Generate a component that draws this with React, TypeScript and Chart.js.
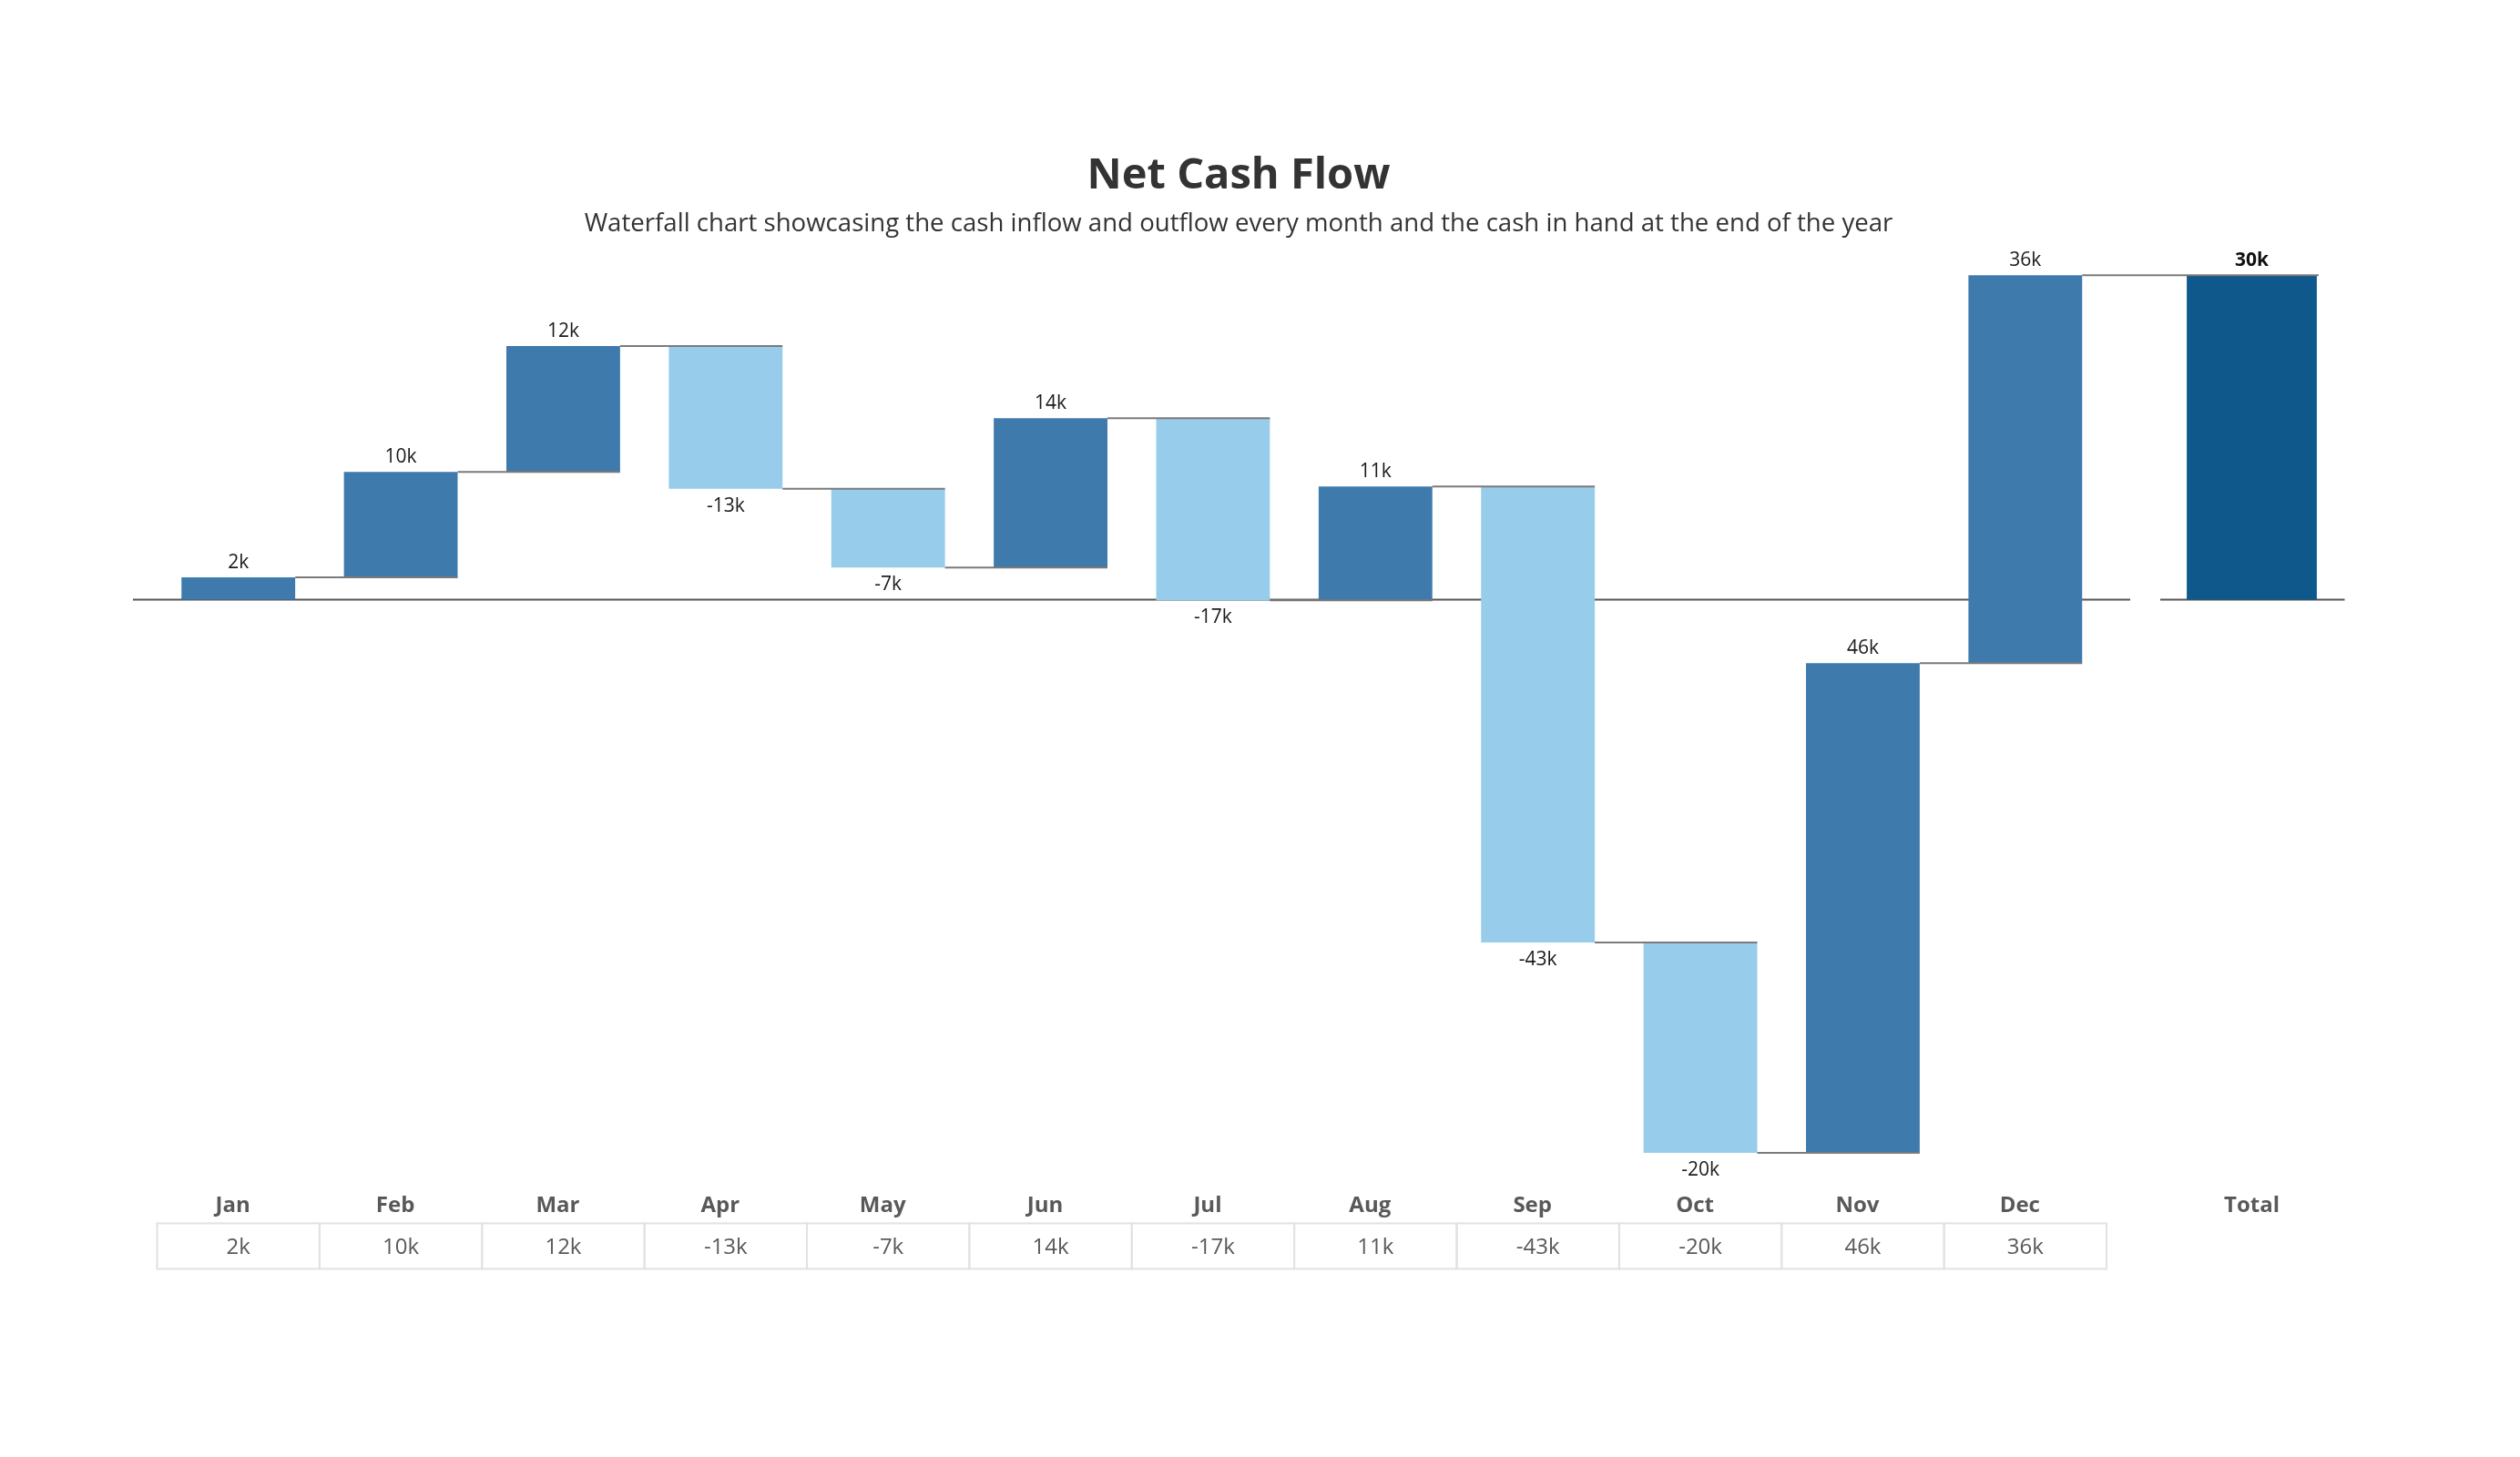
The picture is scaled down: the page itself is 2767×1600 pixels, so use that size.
import React, { useEffect, useRef } from "react";
import { Chart, registerables } from "chart.js";

Chart.register(...registerables);

// ---------- data ----------
const months = ["Jan", "Feb", "Mar", "Apr", "May", "Jun", "Jul", "Aug", "Sep", "Oct", "Nov", "Dec"];
const monthlyNet = [2090, 9870, 11800, -13370, -7390, 14000, -17070, 10670, -42720, -19710, 45870, 36350];
const totalCategory = ["Total"];
const yMin = -54000;
const yMax = 36000;

const titleText = "Net Cash Flow";
const subtitleText =
  "Waterfall chart showcasing the cash inflow and outflow every month and the cash in hand at the end of the year";

// ---------- styling ----------
const FONT = "'Open Sans', 'Noto Sans', sans-serif";
const DARK = "#3e7aac";
const LIGHT = "#97cdea";
const TOTAL = "#0e588c";
const CONNECTOR = "#7a7a7a";
const ZERO = "#555555";
const AXIS_TEXT = "#595959";

const PAD_TOP = 236.6;
const PAD_BOTTOM = 208.6;
const AXIS_H = 100;

const fmtK = (v: number) => `${Math.round(v / 1000)}k`;

// cumulative ranges for floating bars
const ranges: number[][] = [];
let running = 0;
for (const v of monthlyNet) {
  const s = running;
  running += v;
  ranges.push([s, running]);
}
const totalValue = running;

function mainPlugin() {
  return {
    id: "waterfallMain",
    beforeDatasetsDraw(chart: any) {
      const { ctx, chartArea, scales } = chart;
      const y0 = scales.y.getPixelForValue(0);
      ctx.save();
      ctx.strokeStyle = ZERO;
      ctx.lineWidth = 2;
      ctx.beginPath();
      ctx.moveTo(chartArea.left - 26.5, y0);
      ctx.lineTo(chartArea.right + 26, y0);
      ctx.stroke();
      ctx.restore();
    },
    afterDatasetsDraw(chart: any) {
      const { ctx, scales } = chart;
      const meta = chart.getDatasetMeta(0);
      const els = meta.data;
      ctx.save();
      // connectors
      ctx.strokeStyle = CONNECTOR;
      ctx.lineWidth = 2;
      for (let i = 0; i < els.length; i++) {
        const el = els[i];
        const right = el.x + el.width / 2;
        const y = scales.y.getPixelForValue(ranges[i][1]);
        const end = i < els.length - 1 ? els[i + 1].x + els[i + 1].width / 2 : chart.width;
        ctx.beginPath();
        ctx.moveTo(right, y);
        ctx.lineTo(end, y);
        ctx.stroke();
      }
      // value labels
      ctx.font = `400 21px ${FONT}`;
      ctx.fillStyle = "#1a1a1a";
      ctx.textAlign = "center";
      ctx.textBaseline = "middle";
      for (let i = 0; i < els.length; i++) {
        const v = monthlyNet[i];
        const yEnd = scales.y.getPixelForValue(ranges[i][1]);
        const ly = v >= 0 ? yEnd - 16 : yEnd + 19;
        ctx.fillText(fmtK(v), els[i].x, ly);
      }
      ctx.restore();
    },
    afterDraw(chart: any) {
      const { ctx, chartArea, scales } = chart;
      const n = months.length;
      const cw = chartArea.width / n;
      const top = chartArea.bottom + 52;
      const h = 50;
      ctx.save();
      ctx.strokeStyle = "#e2e2e2";
      ctx.lineWidth = 2;
      for (let i = 0; i < n; i++) {
        const cx = scales.x.getPixelForValue(i);
        ctx.strokeRect(cx - cw / 2, top, cw, h);
      }
      ctx.font = `400 24px ${FONT}`;
      ctx.fillStyle = AXIS_TEXT;
      ctx.textAlign = "center";
      ctx.textBaseline = "middle";
      for (let i = 0; i < n; i++) {
        const cx = scales.x.getPixelForValue(i);
        ctx.fillText(fmtK(monthlyNet[i]), cx, top + h / 2 + 2);
      }
      ctx.restore();
    },
  };
}

function totalPlugin() {
  return {
    id: "waterfallTotal",
    beforeDatasetsDraw(chart: any) {
      const { ctx, chartArea, scales } = chart;
      const y0 = scales.y.getPixelForValue(0);
      ctx.save();
      ctx.strokeStyle = ZERO;
      ctx.lineWidth = 2;
      ctx.beginPath();
      ctx.moveTo(chartArea.left + 1.5, y0);
      ctx.lineTo(chartArea.right, y0);
      ctx.stroke();
      ctx.restore();
    },
    afterDatasetsDraw(chart: any) {
      const { ctx, scales } = chart;
      const el = chart.getDatasetMeta(0).data[0];
      const y = scales.y.getPixelForValue(totalValue);
      ctx.save();
      ctx.strokeStyle = CONNECTOR;
      ctx.lineWidth = 2;
      ctx.beginPath();
      ctx.moveTo(0, y);
      ctx.lineTo(el.x + el.width / 2 + 2, y);
      ctx.stroke();
      ctx.font = `700 21px ${FONT}`;
      ctx.fillStyle = "#111";
      ctx.textAlign = "center";
      ctx.textBaseline = "middle";
      ctx.fillText(fmtK(totalValue), el.x, y - 16);
      ctx.restore();
    },
  };
}

function baseOptions(padLeft: number, padRight: number, labelOffset: number) {
  return {
    responsive: false,
    animation: false as const,
    devicePixelRatio: 1,
    layout: { padding: { left: padLeft, right: padRight, top: PAD_TOP, bottom: PAD_BOTTOM } },
    plugins: { legend: { display: false }, tooltip: { enabled: false }, title: { display: false } },
    scales: {
      x: {
        grid: { display: false, drawTicks: false },
        border: { display: false },
        ticks: {
          font: { family: FONT, size: 24, weight: "bold" as const },
          color: AXIS_TEXT,
          padding: 18,
          labelOffset,
        },
        afterFit: (s: any) => {
          s.height = AXIS_H;
        },
      },
      y: { display: false, min: yMin, max: yMax },
    },
  };
}

export default function App() {
  const mainRef = useRef<HTMLCanvasElement>(null);
  const totalRef = useRef<HTMLCanvasElement>(null);

  useEffect(() => {
    const main = new Chart(mainRef.current as HTMLCanvasElement, {
      type: "bar",
      data: {
        labels: months,
        datasets: [
          {
            data: ranges as any,
            backgroundColor: monthlyNet.map((v) => (v >= 0 ? DARK : LIGHT)),
            borderWidth: 0,
            barPercentage: 0.7,
            categoryPercentage: 1,
          },
        ],
      },
      options: baseOptions(172.5, 37, -6) as any,
      plugins: [mainPlugin()],
    });
    const tot = new Chart(totalRef.current as HTMLCanvasElement, {
      type: "bar",
      data: {
        labels: totalCategory,
        datasets: [
          {
            data: [[0, totalValue]] as any,
            backgroundColor: TOTAL,
            borderWidth: 0,
            barPercentage: 0.7,
            categoryPercentage: 1,
          },
        ],
      },
      options: baseOptions(20.5, 192.5, 0) as any,
      plugins: [totalPlugin()],
    });
    return () => {
      main.destroy();
      tot.destroy();
    };
  }, []);

  return (
    <div style={{ position: "fixed", left: 0, top: 0, width: 2767, height: 1600, background: "#fff", overflow: "hidden" }}>
      <canvas ref={mainRef} width={2350} height={1600} style={{ position: "absolute", left: 0, top: 0 }} />
      <canvas ref={totalRef} width={417} height={1600} style={{ position: "absolute", left: 2350, top: 0 }} />
      <div
        style={{
          position: "absolute",
          left: 0,
          width: 2720,
          top: 187 - 30,
          height: 60,
          lineHeight: "60px",
          textAlign: "center",
          font: `700 47px ${FONT}`,
          color: "#333",
          whiteSpace: "nowrap",
        }}
      >
        {titleText}
      </div>
      <div
        style={{
          position: "absolute",
          left: 0,
          width: 2720,
          top: 244 - 20,
          height: 40,
          lineHeight: "40px",
          textAlign: "center",
          font: `400 27.6px ${FONT}`,
          color: "#333",
          whiteSpace: "nowrap",
        }}
      >
        {subtitleText}
      </div>
    </div>
  );
}
